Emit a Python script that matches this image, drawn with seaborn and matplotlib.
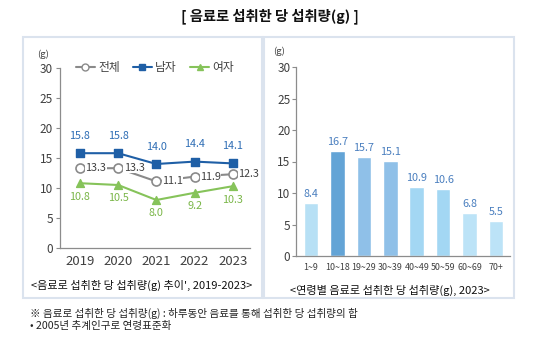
import matplotlib
matplotlib.use("Agg")
import matplotlib.pyplot as plt
from matplotlib.patches import Rectangle
from matplotlib.lines import Line2D
import seaborn as sns
import pandas as pd

# ---- data ----
years = [2019, 2020, 2021, 2022, 2023]
total = [13.3, 13.3, 11.1, 11.9, 12.3]
male = [15.8, 15.8, 14.0, 14.4, 14.1]
female = [10.8, 10.5, 8.0, 9.2, 10.3]
series_names = ["전체", "남자", "여자"]

age_groups = ["1~9", "10~18", "19~29", "30~39", "40~49", "50~59", "60~69", "70+"]
age_values = [8.4, 16.7, 15.7, 15.1, 10.9, 10.6, 6.8, 5.5]

title = "[ 음료로 섭취한 당 섭취량(g) ]"
caption_left = "<음료로 섭취한 당 섭취량(g) 추이', 2019-2023>"
caption_right = "<연령별 음료로 섭취한 당 섭취량(g), 2023>"
note1 = "※ 음료로 섭취한 당 섭취량(g) : 하루동안 음료를 통해 섭취한 당 섭취량의 합"
note2 = "• 2005년 추계인구로 연령표준화"

sns.set_theme(style="white")
plt.rcParams["font.family"] = ["Noto Sans CJK KR", "DejaVu Sans"]

W, H = 540, 338
fig = plt.figure(figsize=(W / 100, H / 100), dpi=100)


def fx(px):
    return px / W


def fy(py):
    return 1 - py / H


axis_col = "#8c8c8c"
text_col = "#404040"

# panel boxes
for x0, x1 in [(23, 262), (264, 514)]:
    fig.patches.append(Rectangle((fx(x0), fy(298)), fx(x1) - fx(x0), fy(37) - fy(298),
                                 transform=fig.transFigure, fill=False,
                                 edgecolor="#dbe3ee", lw=1.5))

fig.text(0.5, fy(16), title, ha="center", va="center", fontsize=10.3,
         fontweight="bold", color="#111111")

# ---- left line chart ----
axL = fig.add_axes([fx(60), fy(248), fx(250) - fx(60), fy(68) - fy(248)])
df = pd.DataFrame({
    "year": years * 3,
    "value": total + male + female,
    "series": [series_names[0]] * 5 + [series_names[1]] * 5 + [series_names[2]] * 5,
})
colors = {"전체": "#8a8a8a", "남자": "#1f5fa6", "여자": "#86c35a"}
markers = {"전체": "o", "남자": "s", "여자": "^"}
for name in series_names:
    sub = df[df["series"] == name]
    sns.lineplot(data=sub, x="year", y="value", ax=axL, color=colors[name],
                 lw=1.5, legend=False)
    if name == "전체":
        axL.scatter(sub["year"], sub["value"], s=42, marker="o",
                    facecolor="white", edgecolor=colors[name], lw=1.2, zorder=3)
    else:
        axL.scatter(sub["year"], sub["value"], s=32, marker=markers[name],
                    color=colors[name], zorder=3)

for x, v in zip(years, male):
    axL.annotate(f"{v:.1f}", (x, v), xytext=(0, 9), textcoords="offset points",
                 ha="center", va="bottom", fontsize=7.8, color="#2f6eb5")
for x, v in zip(years, total):
    axL.annotate(f"{v:.1f}", (x, v), xytext=(4, 0), textcoords="offset points",
                 ha="left", va="center", fontsize=7.8, color=text_col,
                 bbox=dict(boxstyle="square,pad=0.02", fc="white", ec="none"))
for x, v in zip(years, female):
    axL.annotate(f"{v:.1f}", (x, v), xytext=(0, -6), textcoords="offset points",
                 ha="center", va="top", fontsize=7.8, color="#7ab648")

axL.set_ylim(0, 30)
axL.set_yticks([0, 5, 10, 15, 20, 25, 30])
axL.set_xlim(2018.48, 2023.45)
axL.set_xticks(years)
axL.set_xticklabels([str(y) for y in years])
axL.set_xlabel("")
axL.set_ylabel("")
for s in ["top", "right"]:
    axL.spines[s].set_visible(False)
for s in ["left", "bottom"]:
    axL.spines[s].set_color(axis_col)
    axL.spines[s].set_linewidth(0.9)
axL.tick_params(axis="y", length=3, width=0.8, color=axis_col, labelsize=8.5,
                labelcolor=text_col, pad=2, left=True)
axL.tick_params(axis="x", length=0, labelsize=9.5, labelcolor=text_col, pad=5)
axL.text(-0.06, 1.05, "(g)", transform=axL.transAxes, fontsize=6.8,
         color=text_col, ha="right", va="bottom")

handles = [
    Line2D([], [], color=colors["전체"], marker="o", markerfacecolor="white",
           markersize=5, lw=1.5),
    Line2D([], [], color=colors["남자"], marker="s", markersize=4.5, lw=1.5),
    Line2D([], [], color=colors["여자"], marker="^", markersize=4.5, lw=1.5),
]
axL.legend(handles, series_names, ncol=3, frameon=False, loc="center",
           bbox_to_anchor=(0.5, 1.0), fontsize=8.5, handlelength=1.6,
           handletextpad=0.3, columnspacing=1.1, labelcolor=text_col)

fig.text(fx(142), fy(285), caption_left, ha="center", va="center",
         fontsize=8, color="#111111")

# ---- right bar chart ----
axR = fig.add_axes([fx(296), fy(256), fx(510) - fx(296), fy(67) - fy(256)])
bar_colors = ["#b7e0f5", "#63a4d6", "#8fc0e8", "#8fc0e8",
              "#a3d7f3", "#a3d7f3", "#bce3f7", "#bce3f7"]
bdf = pd.DataFrame({"age": age_groups, "value": age_values})
sns.barplot(data=bdf, x="age", y="value", hue="age", palette=bar_colors,
            ax=axR, width=0.55, legend=False, saturation=1)
for i, v in enumerate(age_values):
    axR.annotate(f"{v:.1f}", (i, v), xytext=(0, 3), textcoords="offset points",
                 ha="center", va="bottom", fontsize=7.8, color="#4a7fbf")
axR.set_ylim(0, 30)
axR.set_yticks([0, 5, 10, 15, 20, 25, 30])
axR.set_xlim(-0.57, 7.53)
axR.set_xlabel("")
axR.set_ylabel("")
for s in ["top", "right"]:
    axR.spines[s].set_visible(False)
for s in ["left", "bottom"]:
    axR.spines[s].set_color(axis_col)
    axR.spines[s].set_linewidth(0.9)
axR.tick_params(axis="y", length=3, width=0.8, color=axis_col, labelsize=8.5,
                labelcolor=text_col, pad=1, left=True)
axR.tick_params(axis="x", length=0, labelsize=6.4, labelcolor=text_col, pad=5)
axR.text(-0.05, 1.06, "(g)", transform=axR.transAxes, fontsize=6.8,
         color=text_col, ha="right", va="bottom")

fig.text(fx(390), fy(290), caption_right, ha="center", va="center",
         fontsize=8, color="#111111")

# footnotes
fig.text(fx(30), fy(313), note1, ha="left", va="center", fontsize=7.6, color="#222222")
fig.text(fx(30), fy(326), note2, ha="left", va="center", fontsize=7.6, color="#222222")

fig.savefig("out.png", dpi=100)
